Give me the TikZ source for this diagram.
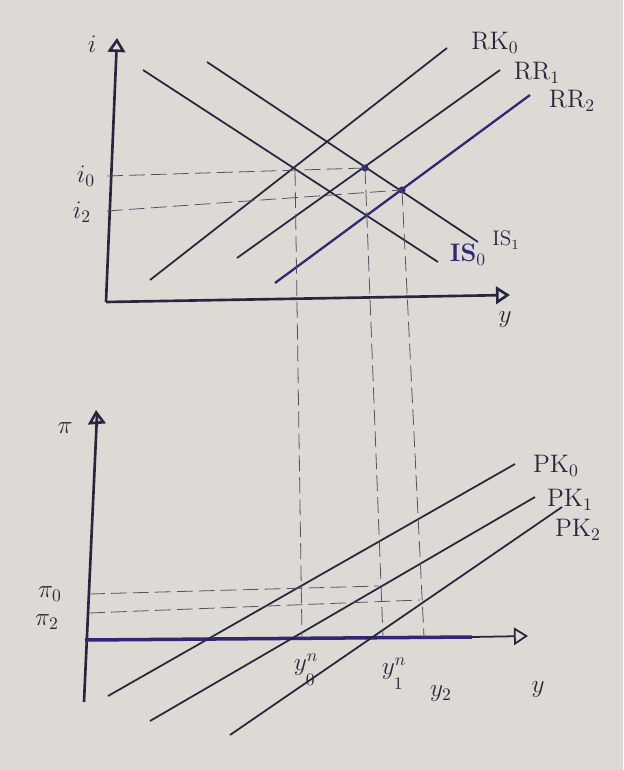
\documentclass[tikz,border=0pt]{standalone}
\usepackage{tikz}
\usetikzlibrary{arrows.meta}
\definecolor{paper}{RGB}{221,217,212}
\definecolor{ink}{RGB}{40,38,62}
\definecolor{blueink}{RGB}{48,40,115}

\begin{document}
\begin{tikzpicture}[x=0.02cm, y=-0.02cm,
  curve/.style={ink, line width=1pt},
  helper/.style={ink!80, line width=0.45pt, dash pattern=on 9pt off 3.5pt},
  axis/.style={ink, line width=1.5pt, -{Triangle[open, length=8pt, width=10pt]}},
  lbl/.style={ink, font=\Large}]
\fill[paper] (0,0) rectangle (623,770);
\useasboundingbox (0,0) rectangle (623,770);

%%% upper panel: IS / RR
\coordinate (O1) at (106,302);
\draw[axis] (O1) -- (117,38);
\draw[axis] (O1) -- (510,295);
\node[lbl] (iLab) at (92,44) {$i$};
\node[lbl] (yTop) at (505,320) {$y$};
% IS curves
\draw[curve] (143,70) -- (438,262);
\draw[curve] (207,62) -- (478,242);
\node[lbl, blueink] (is0) at (468,255) {\textbf{IS}$_0$};
\node[ink, font=\large] (is1) at (506,240) {IS$_1$};
% RR curves
\draw[curve] (150,280) -- (447,48);
\draw[curve] (237,258) -- (500,70);
\draw[blueink, line width=1.3pt] (275,283) -- (530,95);
\node[lbl] (rr0) at (495,43) {RK$_0$};
\node[lbl] (rr1) at (537,73) {RR$_1$};
\node[lbl] (rr2) at (572,101) {RR$_2$};
% equilibria
\coordinate (A0) at (295,170);
\coordinate (A1) at (365,168);
\coordinate (A2) at (402,190);
\fill[blueink] (A1) circle[radius=2pt];
\fill[blueink] (A2) circle[radius=2pt];
% interest levels
\draw[helper] (107,176) -- (A1);
\draw[helper] (107,211) -- (A2);
\node[lbl] (i0) at (86,176) {$i_0$};
\node[lbl] (i2) at (82,212) {$i_2$};

%%% lower panel: PK
\coordinate (O2) at (85,640);
\draw[ink, line width=1.5pt] (84,702) -- (97,415);
\draw[axis] (97,425) -- (96,410);
\draw[blueink, line width=2pt] (O2) -- (472,637);
\draw[axis, line width=1pt] (472,637) -- (528,636);
\node[lbl] (piLab) at (65,428) {$\pi$};
\node[lbl] (yBot) at (538,690) {$y$};
% PK curves
\draw[curve] (108,696) -- (515,464);
\draw[curve] (150,721) -- (535,497);
\draw[curve] (230,735) -- (562,507);
\node[lbl] (pk0) at (556,466) {PK$_0$};
\node[lbl] (pk1) at (570,500) {PK$_1$};
\node[lbl] (pk2) at (578,530) {PK$_2$};
% output levels
\coordinate (B0) at (302,637);
\coordinate (B1) at (383,637);
\coordinate (B2) at (424,637);
\draw[helper] (A0) -- (B0);
\draw[helper] (A1) -- (B1);
\draw[helper] (A2) -- (B2);
\node[lbl] (y0) at (306,670) {$y^{n}_{\raisebox{-5pt}{$\scriptstyle 0$}}$};
\node[lbl] (y1) at (394,674) {$y^{n}_{\raisebox{-5pt}{$\scriptstyle 1$}}$};
\node[lbl] (y2) at (441,694) {$y_2$};
% inflation levels
\draw[helper] (89,594) -- (379,586);
\draw[helper] (89,613) -- (420,600);
\node[lbl] (pi0) at (50,594) {$\pi_0$};
\node[lbl] (pi2) at (47,622) {$\pi_2$};
\end{tikzpicture}
\end{document}
